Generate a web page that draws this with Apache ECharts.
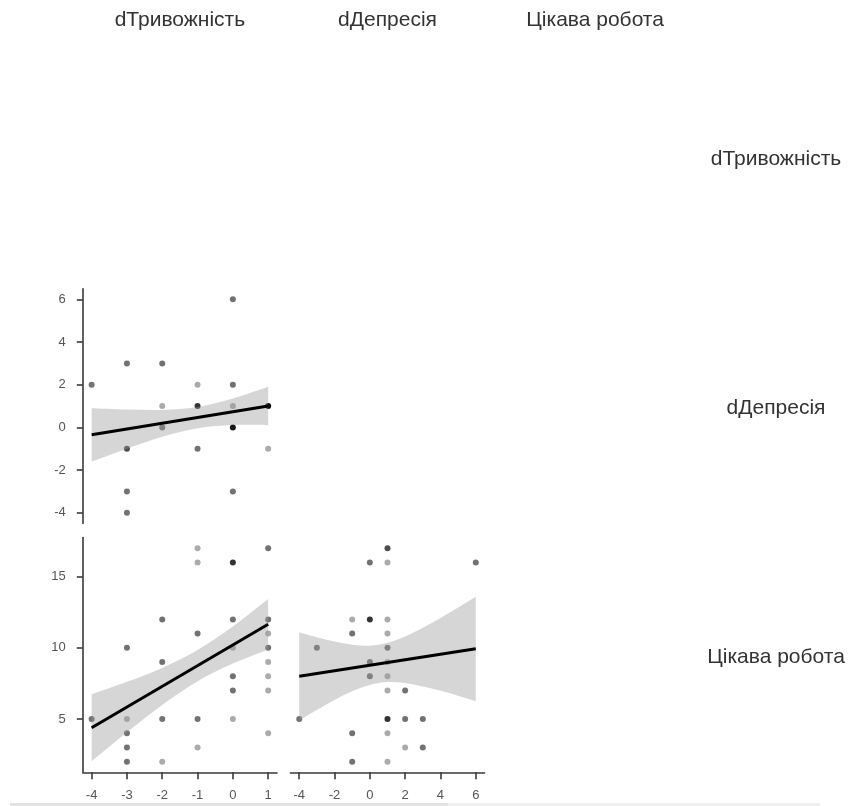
<!DOCTYPE html>
<html>
<head>
<meta charset="utf-8">
<script src="https://cdn.jsdelivr.net/npm/echarts@6/dist/echarts.min.js"></script>
<style>
html,body{margin:0;padding:0;background:#fff;}
#chart{width:856px;height:806px;}
</style>
</head>
<body>
<div id="chart"></div>
<script>
// ---- variable names ----
const varLabels = ['dТривожність', 'dДепресія', 'Цікава робота'];

// ---- tick labels ----
const anxTicks = [-4, -3, -2, -1, 0, 1];
const depTicksX = [-4, -2, 0, 2, 4, 6];
const depTicksY = [-4, -2, 0, 2, 4, 6];
const workTicks = [5, 10, 15];

// ---- scatter points: [x, y, number of overlapping observations] ----
// dТривожність (x) vs dДепресія (y)
const anxDep = [
  [-4, 2, 2], [-3, 3, 2], [-3, -1, 3], [-3, -3, 2], [-3, -4, 2],
  [-2, 3, 2], [-2, 1, 1], [-2, 0, 2], [-1, 2, 1], [-1, 1, 4], [-1, -1, 2],
  [0, 6, 2], [0, 2, 2], [0, 1, 1], [0, 0, 6], [0, -3, 2], [1, 1, 8], [1, -1, 1]
];
// dТривожність (x) vs Цікава робота (y)
const anxWork = [
  [-4, 5, 2], [-3, 10, 2], [-3, 5, 1], [-3, 4, 2], [-3, 3, 2], [-3, 2, 2],
  [-2, 12, 2], [-2, 9, 2], [-2, 5, 2], [-2, 2, 1],
  [-1, 17, 1], [-1, 16, 1], [-1, 11, 2], [-1, 5, 2], [-1, 3, 1],
  [0, 16, 4], [0, 12, 2], [0, 10, 1], [0, 8, 2], [0, 7, 2], [0, 5, 1],
  [1, 17, 2], [1, 12, 2], [1, 11, 1], [1, 10, 2], [1, 9, 1], [1, 8, 1], [1, 7, 1], [1, 4, 1]
];
// dДепресія (x) vs Цікава робота (y)
const depWork = [
  [-4, 5, 2], [-3, 10, 2], [-1, 12, 1], [-1, 11, 2], [-1, 4, 2], [-1, 2, 2],
  [0, 16, 2], [0, 12, 4], [0, 9, 2], [0, 8, 2],
  [1, 17, 3], [1, 16, 1], [1, 12, 1], [1, 11, 1], [1, 10, 2], [1, 9, 1], [1, 8, 1], [1, 7, 1],
  [1, 5, 4], [1, 4, 1], [1, 2, 1], [2, 7, 2], [2, 5, 2], [2, 3, 1], [3, 5, 2], [3, 3, 2], [6, 16, 2]
];

// ---- regression lines ----
const anxDepFitX = [-4, 1];
const anxDepFitY = [-0.35, 1.0];
const anxWorkFitX = [-4, 1];
const anxWorkFitY = [4.38, 11.66];
const depWorkFitX = [-4, 6];
const depWorkFitY = [8.0, 9.93];

// ---- confidence bands ----
const anxDepBandX = [-4, -3, -2, -1, 0, 1];
const anxDepBandLo = [-1.60, -1.00, -0.44, -0.04, 0.11, 0.10];
const anxDepBandHi = [0.90, 0.84, 0.82, 0.96, 1.35, 1.90];

const anxWorkBandX = [-4, -3, -2, -1, 0, 1];
const anxWorkBandLo = [2.03, 4.07, 5.99, 7.65, 8.90, 9.89];
const anxWorkBandHi = [6.73, 7.61, 8.59, 9.85, 11.50, 13.43];

const depWorkBandX = [-4, -3, -2, -1, 0, 1, 2, 3, 4, 5, 6];
const depWorkBandLo = [4.90, 5.63, 6.33, 6.94, 7.39, 7.59, 7.52, 7.29, 6.98, 6.64, 6.26];
const depWorkBandHi = [11.10, 10.75, 10.45, 10.22, 10.15, 10.35, 10.80, 11.41, 12.10, 12.84, 13.60];

// ---- styling ----
const FONT = 'Liberation Sans, Arial, sans-serif';
const AXIS_COLOR = '#3a3a3a';
const LABEL_COLOR = '#555555';
const ALPHA = 0.33;
const BAND_COLOR = 'rgba(153,153,153,0.4)';

const chart = echarts.init(document.getElementById('chart'), null, {renderer: 'canvas'});

const colLeft = [82.8, 290.4, 498];
const colW = 194.2;
const rowTop = [40.2, 288.7, 537.6];
const rowH = 234.7;

function pts(arr) {
  return arr.map(p => ({value: [p[0], p[1]], itemStyle: {opacity: 1 - Math.pow(1 - ALPHA, p[2])}}));
}

// smooth curve through pixel points (Catmull-Rom rendered as cubic Bezier segments)
function curvePath(P, moveFirst) {
  let d = (moveFirst ? 'M' : 'L') + P[0][0] + ' ' + P[0][1];
  for (let i = 0; i < P.length - 1; i++) {
    const p0 = P[Math.max(i - 1, 0)], p1 = P[i], p2 = P[i + 1], p3 = P[Math.min(i + 2, P.length - 1)];
    const c1 = [p1[0] + (p2[0] - p0[0]) / 6, p1[1] + (p2[1] - p0[1]) / 6];
    const c2 = [p2[0] - (p3[0] - p1[0]) / 6, p2[1] - (p3[1] - p1[1]) / 6];
    d += ' C' + c1[0] + ' ' + c1[1] + ' ' + c2[0] + ' ' + c2[1] + ' ' + p2[0] + ' ' + p2[1];
  }
  return d;
}

function bandSeries(gi, bx, lo, hi) {
  return {
    type: 'custom', xAxisIndex: gi, yAxisIndex: gi, silent: true, z: 3,
    data: [[bx[0], lo[0]]],
    renderItem: function (params, api) {
      const up = bx.map((x, i) => api.coord([x, hi[i]]));
      const dn = bx.map((x, i) => api.coord([x, lo[i]])).reverse();
      const d = curvePath(up, true) + ' ' + curvePath(dn, false) + ' Z';
      return {type: 'path', shape: {pathData: d}, style: {fill: BAND_COLOR, stroke: null}};
    }
  };
}

function panelSeries(gi, points, fitX, fitY, bx, lo, hi) {
  return [
    {type: 'scatter', xAxisIndex: gi, yAxisIndex: gi, data: pts(points), symbolSize: 6,
     itemStyle: {color: '#000'}, silent: true, z: 2},
    bandSeries(gi, bx, lo, hi),
    {type: 'line', xAxisIndex: gi, yAxisIndex: gi, symbol: 'none',
     data: fitX.map((x, i) => [x, fitY[i]]), lineStyle: {color: '#000', width: 3}, silent: true, z: 4}
  ];
}

function xAxisCfg(gi, min, max, ticks, show) {
  return {
    type: 'value', gridIndex: gi, min: min, max: max, show: show,
    axisLine: {show: true, onZero: false, lineStyle: {color: AXIS_COLOR, width: 1.6}},
    axisTick: {show: true, customValues: ticks, length: 7, lineStyle: {color: AXIS_COLOR, width: 1.6}},
    axisLabel: {customValues: ticks, margin: 17, color: LABEL_COLOR, fontSize: 13, fontFamily: FONT},
    splitLine: {show: false}
  };
}
function yAxisCfg(gi, min, max, ticks, show) {
  return {
    type: 'value', gridIndex: gi, min: min, max: max, show: show,
    axisLine: {show: true, onZero: false, lineStyle: {color: AXIS_COLOR, width: 1.6}},
    axisTick: {show: true, customValues: ticks, length: 6, lineStyle: {color: AXIS_COLOR, width: 1.6}},
    axisLabel: {customValues: ticks, margin: 17, color: LABEL_COLOR, fontSize: 13, fontFamily: FONT},
    splitLine: {show: false}
  };
}

const graphics = [];
varLabels.forEach((lab, i) => {
  graphics.push({type: 'text', x: colLeft[i] + colW / 2, y: 20, silent: true,
    style: {text: lab, fill: '#333', font: '21px ' + FONT, textAlign: 'center', textVerticalAlign: 'middle'}});
  graphics.push({type: 'text', x: 776, y: rowTop[i] + rowH / 2 + 2, silent: true,
    style: {text: lab, fill: '#333', font: '21px ' + FONT, textAlign: 'center', textVerticalAlign: 'middle'}});
});
graphics.push({type: 'rect', shape: {x: 10, y: 803, width: 438, height: 3}, style: {fill: '#e2e2e2'}, silent: true});
graphics.push({type: 'rect', shape: {x: 448, y: 803, width: 372, height: 3}, style: {fill: '#f0f0f0'}, silent: true});

const option = {
  animation: false,
  backgroundColor: '#fff',
  grid: [
    {left: colLeft[0], top: rowTop[1], width: colW, height: rowH},
    {left: colLeft[0], top: rowTop[2], width: colW, height: rowH},
    {left: colLeft[1], top: rowTop[2], width: colW, height: rowH}
  ],
  xAxis: [
    xAxisCfg(0, -4.25, 1.25, anxTicks, false),
    xAxisCfg(1, -4.25, 1.25, anxTicks, true),
    xAxisCfg(2, -4.5, 6.5, depTicksX, true)
  ],
  yAxis: [
    yAxisCfg(0, -4.5, 6.5, depTicksY, true),
    yAxisCfg(1, 1.25, 17.75, workTicks, true),
    yAxisCfg(2, 1.25, 17.75, workTicks, false)
  ],
  series: [].concat(
    panelSeries(0, anxDep, anxDepFitX, anxDepFitY, anxDepBandX, anxDepBandLo, anxDepBandHi),
    panelSeries(1, anxWork, anxWorkFitX, anxWorkFitY, anxWorkBandX, anxWorkBandLo, anxWorkBandHi),
    panelSeries(2, depWork, depWorkFitX, depWorkFitY, depWorkBandX, depWorkBandLo, depWorkBandHi)
  ),
  graphic: graphics
};
chart.setOption(option);
</script>
</body>
</html>
